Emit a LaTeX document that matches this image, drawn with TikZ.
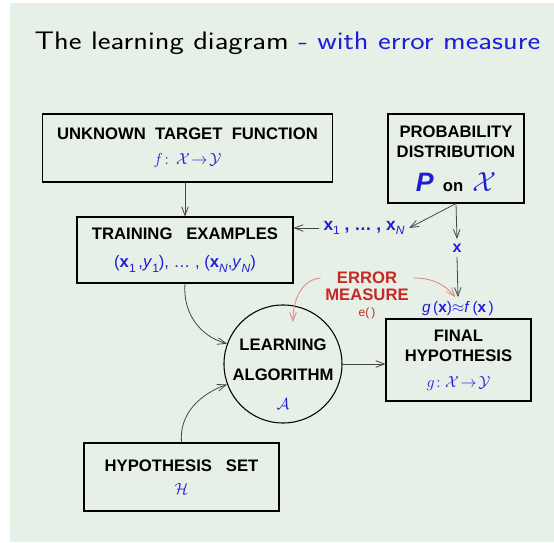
\documentclass[tikz,border=0pt]{standalone}
\usepackage{fontspec}
\setmainfont{Liberation Sans}
\usepackage{graphicx}
\usetikzlibrary{arrows.meta,calc}

\definecolor{slidebg}{RGB}{230,240,230}
\definecolor{mathblue}{RGB}{30,30,215}
\definecolor{errred}{RGB}{200,40,35}
\definecolor{errpink}{RGB}{225,130,125}
\definecolor{linkgray}{RGB}{70,70,70}

\newcommand{\fsz}[1]{\fontsize{#1}{#1}\selectfont}
\newcommand{\vx}{\textbf{x}}
\newcommand{\sub}[1]{\raisebox{-.5ex}{\mdseries\fsz{9}#1}}

\tikzset{
  infobox/.style={draw,thick,align=center,inner sep=0pt,
    font=\bfseries\fontsize{12.5}{15.5}\selectfont,
    execute at begin node={\rule{0pt}{17pt}}},
  link/.style={->,linkgray,line width=0.6pt},
  errlink/.style={->,errpink,line width=0.6pt},
  blu/.style={text=mathblue},
}

\begin{document}
\begin{tikzpicture}[x=0.75pt,y=0.75pt,>={Straight Barb[length=6.5pt,width=5pt]}]
\fill[slidebg] (10,1) rectangle (554,540);
\useasboundingbox (0,0) rectangle (554,543);

\node (title) at (287.5,500) {\sffamily\fsz{19}\scalebox{1.2}[1]{The learning diagram {\color{mathblue}- with error measure}}};

% boxes
\node[infobox,minimum width=218pt,minimum height=51pt] (target) at (187.5,395)
  {UNKNOWN\ \ TARGET\ \ FUNCTION\\[3pt] {\color{mathblue}\mdseries\fsz{11.5}$f\!:\,\mathcal X\!\to\!\mathcal Y$}};
\node[infobox,minimum width=102pt,minimum height=66.75pt,execute at begin node={}] (prob) at (456,384.5)
  {PROBABILITY\\DISTRIBUTION\\[9.5pt] {\color{mathblue}\fsz{20}\textit{P}}\ \ on\ \ {\color{mathblue}\fsz{20}$\mathcal X$}};
\node[infobox,minimum width=162pt,minimum height=49.5pt] (train) at (185,293)
  {TRAINING\ \ \ EXAMPLES\\[6pt] {\color{mathblue}\mdseries (\vx\sub{1}\,,\textit{y}\sub{1}),\ \dots\ ,\ (\vx\sub{\textit{N}},\textit{y}\sub{\textit{N}})}};
\node[infobox,circle,minimum size=88.5pt,execute at begin node={}] (alg) at (283,179) {};
\node[align=center,font=\bfseries\fontsize{12.5}{15.5}\selectfont] (algtxt) at ([yshift=-7.5pt]alg.center)
  {LEARNING\\[7.5pt]ALGORITHM\\[6pt]{\color{mathblue}$\mathcal A$}};
\node[infobox,minimum width=108.75pt,minimum height=61.5pt] (final) at (458.5,183)
  {FINAL\\HYPOTHESIS\\[3.5pt] {\color{mathblue}\mdseries$g\!:\mathcal X\!\to\!\mathcal Y$}};
\node[infobox,minimum width=146.25pt,minimum height=51pt] (hyp) at (181.5,66)
  {HYPOTHESIS\ \ \ SET\\[2pt] {\color{mathblue}$\mathcal H$}};

% labels
\node[blu,font=\bfseries\fsz{13}] (samples) at (364,315) {x\sub{1}\ , \dots\ , x\sub{\textit{N}}};
\node[blu,font=\bfseries\fsz{12}] (xpt) at (457,295) {x};
\node[blu,font=\fsz{11.5}] (gf) at (458,234) {\textit{g}\,(\textbf{x})$\approx$\textit{f}\,(\textbf{x}\,)};
\node[text=errred,font=\bfseries\fsz{12.5},align=center] (err) at (367,257) {ERROR\\MEASURE};
\node[text=errred,font=\fsz{9}] (eop) at (367,230) {e(\,)};

% connectors
\draw[link] (target.south -| train.north) -- (train.north);
\draw[link] (prob.south) -- (samples.east);
\draw[link] (samples.west) -- (samples.west -| train.east);
\draw[link] (prob.south) -- (xpt.north);
\draw[link] (xpt.south) -- (gf.north);
\draw[link] (train.south) to[out=-95,in=165] (alg.160);
\draw[link] (hyp.north) to[out=95,in=200] (alg.200);
\draw[link] (alg.east) -- (alg.east -| final.west);
\draw[errlink] ([yshift=6pt]err.west) to[out=185,in=90] ($(alg.center)+(10,42)$);
\draw[errlink] ([yshift=6pt]err.east) to[out=0,in=130] ([xshift=-2pt]gf.north);
\end{tikzpicture}
\end{document}
